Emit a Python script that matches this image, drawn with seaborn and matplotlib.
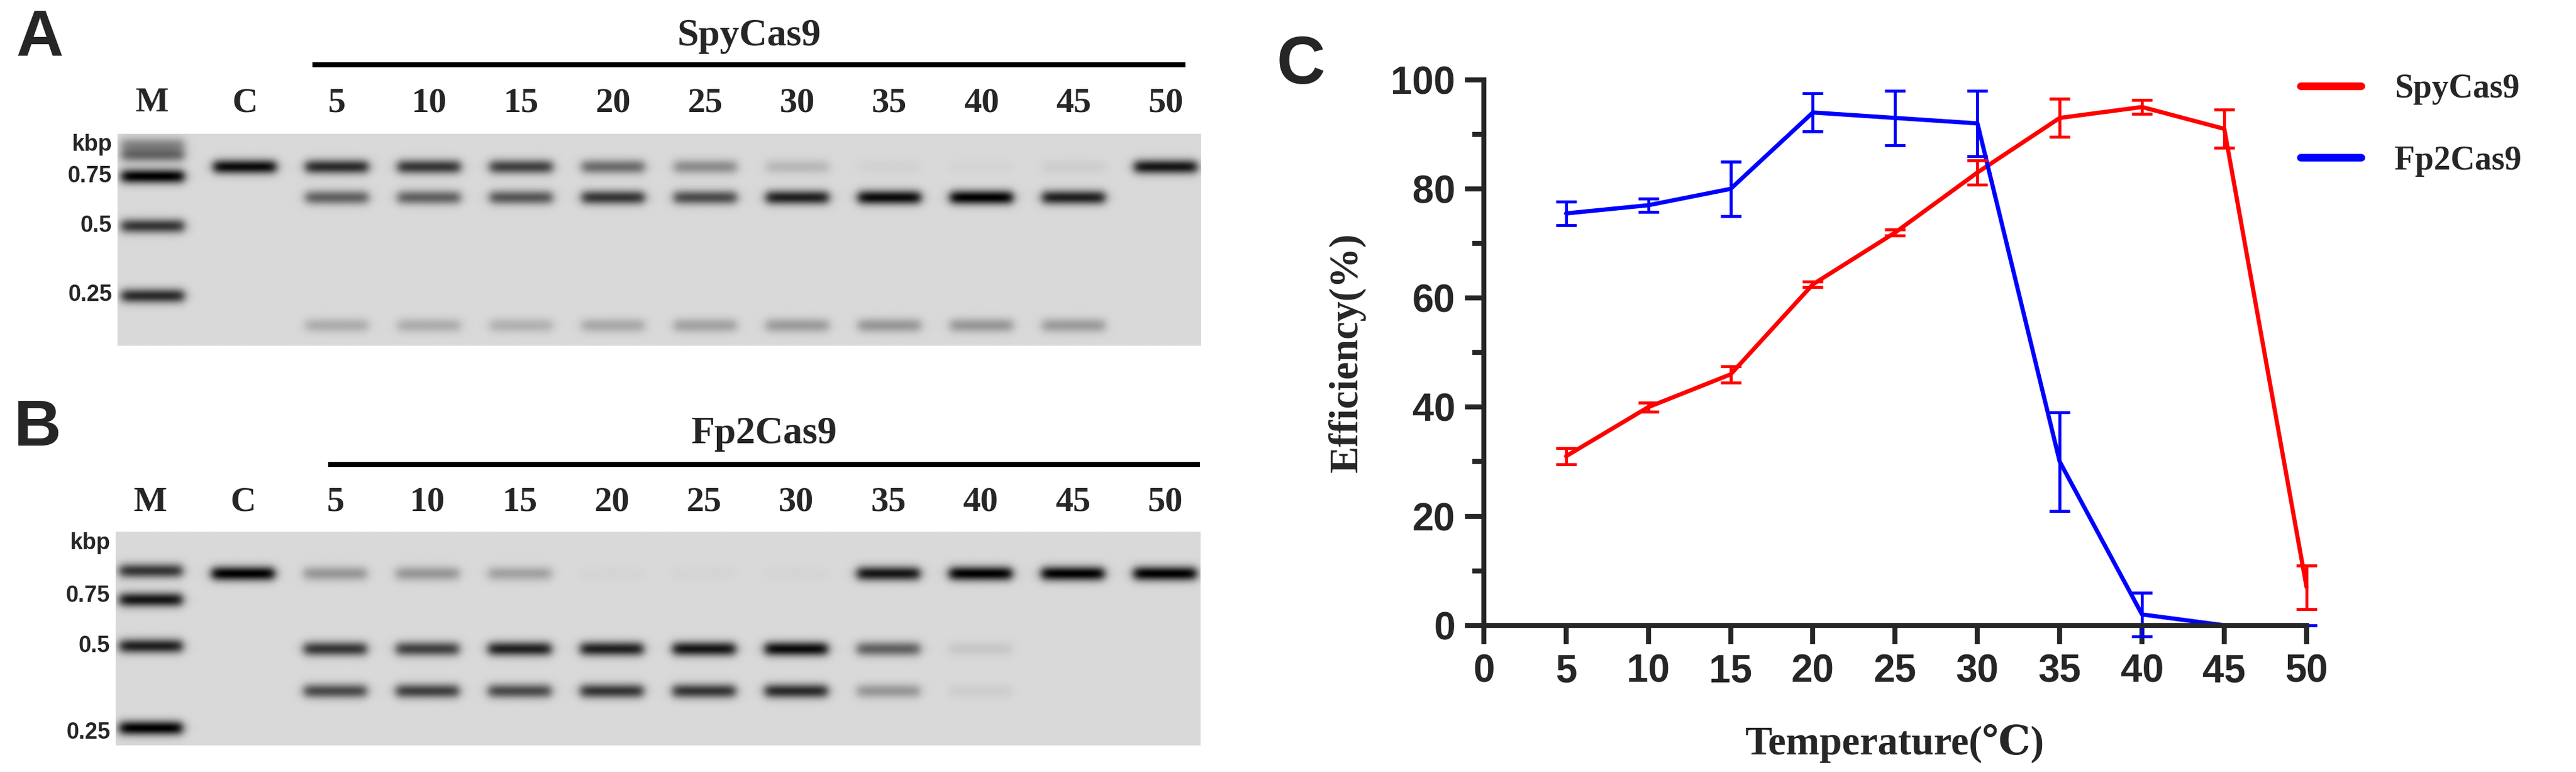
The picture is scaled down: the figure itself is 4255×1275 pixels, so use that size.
import numpy as np
import pandas as pd
import matplotlib
matplotlib.use("Agg")
import matplotlib.pyplot as plt
import seaborn as sns

# ── Data ──────────────────────────────────────────────────────────────────────

temps = [5, 10, 15, 20, 25, 30, 35, 40, 45, 50]
spy_mean = [31, 40, 46, 62.5, 72, 83, 93, 95, 91, 7]
spy_err = [1.5, 0.8, 1.5, 0.5, 0.5, 2.2, 3.5, 1.3, 3.5, 4.0]
fp2_mean = [75.5, 77, 80, 94, 93, 92, 30, 2, 0, 0]
fp2_err = [2.2, 1.2, 5.0, 3.5, 5.0, 6.0, 9.0, 4.0, 0, 0]

lane_labels = ["M", "C"] + [str(t) for t in temps]
ladder_kbp = ["kbp", "0.75", "0.5", "0.25"]

# gel A (SpyCas9): band rows (relative y) and per-lane intensities
gelA_ladder_y = [0.05, 0.1, 0.2, 0.435, 0.765]
gelA_ladder_i = [0.35, 0.5, 1.0, 0.75, 0.8]
gelA_label_y = [0.05, 0.2, 0.435, 0.76]
gelA_band_y = [0.155, 0.30, 0.905]          # uncut, cut 1, cut 2
gelA_control = 0.95
gelA_uncut = [0.8, 0.75, 0.7, 0.5, 0.35, 0.15, 0.03, 0.02, 0.05, 0.9]
gelA_cut1 = [0.55, 0.55, 0.6, 0.75, 0.65, 0.85, 0.95, 1.0, 0.85, 0.0]
gelA_cut2 = [0.2, 0.2, 0.18, 0.22, 0.25, 0.28, 0.3, 0.3, 0.28, 0.0]

# gel B (Fp2Cas9)
gelB_ladder_y = [0.185, 0.32, 0.537, 0.92]
gelB_ladder_i = [0.75, 0.9, 0.85, 1.0]
gelB_label_y = [0.055, 0.3, 0.535, 0.94]
gelB_band_y = [0.198, 0.55, 0.747]
gelB_control = 1.0
gelB_uncut = [0.3, 0.3, 0.25, 0.02, 0.02, 0.02, 0.9, 1.0, 1.0, 1.0]
gelB_cut1 = [0.75, 0.7, 0.85, 0.85, 0.9, 0.95, 0.55, 0.08, 0.0, 0.0]
gelB_cut2 = [0.65, 0.7, 0.65, 0.75, 0.75, 0.8, 0.3, 0.05, 0.0, 0.0]

# ── Style ─────────────────────────────────────────────────────────────────────

sns.set_style("ticks")
plt.rcParams["font.family"] = ["Liberation Serif", "DejaVu Serif"]
NARROW = ["Liberation Sans Narrow", "Liberation Sans", "DejaVu Sans"]
SERIF = ["Liberation Serif", "DejaVu Serif"]

fig = plt.figure(figsize=(42.55, 12.75), dpi=100)


def gel_image(ladder_y, ladder_i, band_y, control, uncut, cut1, cut2, n_rows=500):
    n_lanes = len(lane_labels)
    x = np.linspace(-0.38, 11.38, 1500)
    y = np.linspace(0, 1, n_rows)
    img = np.zeros((n_rows, x.size))
    lanes = [list(zip(ladder_y, ladder_i)), [(band_y[0], control)]]
    for u, c1, c2 in zip(uncut, cut1, cut2):
        lanes.append([(band_y[0], u), (band_y[1], c1), (band_y[2], c2)])
    for li in range(n_lanes):
        xprof = 1 / (1 + np.exp((np.abs(x - li) - 0.34) / 0.03))
        for by, bi in lanes[li]:
            yprof = np.exp(-0.5 * ((y - by) / 0.024) ** 2)
            img += bi * np.outer(yprof, xprof)
    return np.clip(0.15 + 0.85 * img, 0, 1)


def draw_gel(rect, img, label_y, title, letter, lab_y, title_y, line_y, line_x):
    ax = fig.add_axes(rect)
    ax.imshow(img, cmap="gray_r", vmin=0, vmax=1.0, aspect="auto",
              extent=[-0.38, 11.38, 1, 0], interpolation="bilinear")
    ax.set_xlim(-0.38, 11.38)
    ax.set_ylim(1, 0)
    ax.set_xticks([])
    ax.set_yticks([])
    for s in ax.spines.values():
        s.set_visible(False)
    trans = ax.get_xaxis_transform()
    for i, lab in enumerate(lane_labels):
        ax.text(i, lab_y, lab, transform=trans, ha="center", va="center",
                fontsize=42, fontweight="bold", family=SERIF)
    for lab, yy in zip(ladder_kbp, label_y):
        ax.text(-0.44, yy, lab, ha="right", va="center", fontsize=27,
                fontweight="bold", family=NARROW)
    ax.text(0.5 * (line_x[0] + line_x[1]), title_y, title, transform=ax.transAxes,
            ha="center", va="center", fontsize=46, fontweight="bold", family=SERIF)
    ax.plot(line_x, [line_y, line_y], transform=ax.transAxes, color="black",
            lw=6, clip_on=False, solid_capstyle="butt")
    ax.text(-0.094, letter[1], letter[0], transform=ax.transAxes, ha="left",
            va="center", fontsize=78, fontweight="bold", family=NARROW)
    return ax


imgA = gel_image(gelA_ladder_y, gelA_ladder_i, gelA_band_y, gelA_control,
                 gelA_uncut, gelA_cut1, gelA_cut2)
draw_gel([0.0456, 0.552, 0.4205, 0.2745], imgA, gelA_label_y, "SpyCas9",
         ("A", 1.45), 1.146, 1.46, 1.326, (0.18, 0.986))

imgB = gel_image(gelB_ladder_y, gelB_ladder_i, gelB_band_y, gelB_control,
                 gelB_uncut, gelB_cut1, gelB_cut2)
draw_gel([0.0449, 0.0345, 0.421, 0.277], imgB, gelB_label_y, "Fp2Cas9",
         ("B", 1.48), 1.136, 1.456, 1.314, (0.196, 1.0))

# ── Panel C: efficiency vs temperature ───────────────────────────────────────

df = pd.DataFrame({
    "Temperature": temps * 2,
    "Efficiency": spy_mean + fp2_mean,
    "err": spy_err + fp2_err,
    "Enzyme": ["SpyCas9"] * len(temps) + ["Fp2Cas9"] * len(temps),
})
palette = {"SpyCas9": "#ff0000", "Fp2Cas9": "#0000ff"}

ax = fig.add_axes([0.576, 0.19, 0.3194, 0.7067])
sns.lineplot(data=df, x="Temperature", y="Efficiency", hue="Enzyme",
             palette=palette, lw=5, ax=ax, clip_on=False, legend=True)
for name, sub in df.groupby("Enzyme"):
    ax.errorbar(sub["Temperature"], sub["Efficiency"], yerr=sub["err"], fmt="none",
                ecolor=palette[name], elinewidth=3.5, capsize=12, capthick=3.5,
                clip_on=False)

ax.set_xlim(0, 50)
ax.set_ylim(0, 100)
ax.set_xticks(range(0, 51, 5))
ax.set_yticks(range(0, 101, 20))
ax.set_yticks(range(10, 100, 20), minor=True)
ax.tick_params(axis="both", which="major", width=6, length=22, labelsize=46, pad=12)
ax.tick_params(axis="y", which="minor", width=6, length=14)
for lab in ax.get_xticklabels() + ax.get_yticklabels():
    lab.set_family(NARROW)
    lab.set_fontweight("bold")
for s in ["left", "bottom"]:
    ax.spines[s].set_linewidth(6)
sns.despine(ax=ax)
ax.set_xlabel("Temperature(℃)", fontsize=48, fontweight="bold", labelpad=40)
ax.set_ylabel("Efficiency(%)", fontsize=48, fontweight="bold", labelpad=30)

leg = ax.legend(loc="upper left", bbox_to_anchor=(0.893, 0.905),
                bbox_transform=fig.transFigure, frameon=False, fontsize=40,
                handlelength=1.8, handletextpad=1.0, labelspacing=1.2,
                borderaxespad=0, borderpad=0)
for h in leg.get_lines():
    h.set_linewidth(9)
for t in leg.get_texts():
    t.set_fontweight("bold")

fig.text(2149 / 4255, 1 - 109 / 1275, "C", ha="center", va="center",
         fontsize=80, fontweight="bold", family=NARROW)

fig.savefig("out.png", dpi=100)
